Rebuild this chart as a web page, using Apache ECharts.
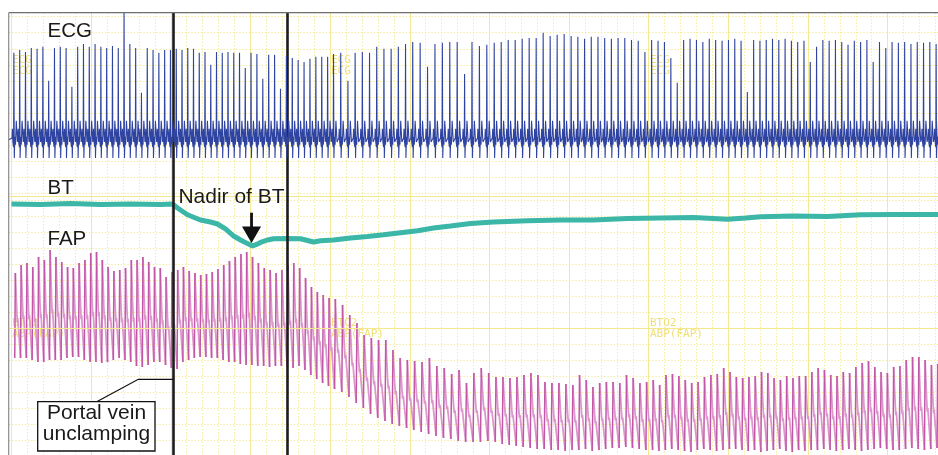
<!DOCTYPE html>
<html><head><meta charset="utf-8">
<script src="https://cdn.jsdelivr.net/npm/echarts@6/dist/echarts.min.js"></script>
<style>html,body{margin:0;padding:0;background:#fff}#c{width:938px;height:455px}</style>
</head><body><div id="c"></div>
<script>
// ================= DATA (time in s, 1 grid cell = 1 s) =================
// R-R interval per 5-s division
const divisionRR = [0.364, 0.364, 0.361, 0.370, 0.452, 0.465, 0.439, 0.421, 0.402, 0.395, 0.395, 0.395];
// ECG R-wave amplitude per beat (mV), grouped by 5-s division
const ecgR = [
  [2.18, 2.25, 2.2, 2.3, 2.28, 2.33, 1.48, 2.3, 2.33, 2.3, 1.33, 2.33, 2.4, 2.33],
  [2.4, 2.33, 2.3, 2.35, 2.3, 3.2, 2.4, 2.3, 1.18, 2.3, 2.25, 2.18, 2.25, 2.25],
  [2.28, 2.25, 2.3, 2.28, 2.18, 2.2, 1.88, 2.2, 2.18, 2.2, 2.18, 2.18, 1.8],
  [2.18, 2.15, 1.53, 2.13, 2.13, 1.28, 2.1, 2.05, 2.0, 1.95, 2.03, 2.08, 2.08, 2.08],
  [2.15, 2.18, 1.48, 2.18, 2.2, 2.18, 2.33, 2.28, 2.28, 2.33, 2.4],
  [2.45, 2.43, 1.83, 2.4, 2.43, 2.45, 2.45, 1.65, 2.45, 2.35, 2.38],
  [2.43, 2.45, 2.5, 2.5, 2.53, 2.55, 2.55, 2.68, 2.6, 2.63, 2.65],
  [2.6, 2.58, 2.53, 2.58, 2.58, 2.55, 2.53, 2.55, 2.55, 2.5, 2.48, 2.2],
  [2.5, 2.48, 2.45, 2.05, 1.43, 2.5, 2.53, 2.5, 2.45, 2.53, 2.5, 2.48],
  [2.5, 2.53, 2.48, 1.2, 2.5, 2.48, 2.5, 2.53, 2.5, 2.53, 2.48, 2.45, 2.48],
  [1.95, 2.33, 2.5, 2.48, 2.5, 2.45, 2.38, 2.48, 2.45, 2.5, 1.95, 2.45, 2.3],
  [2.45, 2.43, 2.45, 2.4, 2.45, 2.43, 2.45, 2.4]
];
// Femoral arterial pressure per beat (mmHg)
const fapSys = [
  [114.8, 118, 118.8, 117.2, 121.2, 120, 124, 121.2, 119.2, 117.2, 116.8, 118.8, 120, 122.8],
  [123.2, 120, 117.2, 115.6, 116, 116.8, 120, 120, 121.2, 119.2, 117.2, 116.8, 113.2, 115.2],
  [116, 117.2, 115.6, 114.8, 114, 114.4, 115.2, 116.4, 118, 119.6, 121.2, 122.4, 123.2],
  [121.2, 118.8, 116.8, 116, 114.8, 116, 118, 118.8, 116.8, 112.8, 109.2, 107.2, 106, 104.8],
  [104.4, 102, 98, 94.8, 90, 88.8, 88, 88, 84, 80.8, 80],
  [79.6, 79.2, 80.8, 77.6, 76.8, 74.4, 76, 70.8, 74.8, 76.8, 74.8],
  [73.2, 73.2, 72.8, 73.2, 74, 74.8, 74, 71.2, 70.8, 70.8, 70.4],
  [70, 74, 72, 69.2, 70.8, 71.2, 71.2, 70.8, 74, 72.8, 70.8, 71.2],
  [72, 70, 74, 74.4, 73.6, 72, 70.8, 71.2, 73.2, 74, 74.4, 76.8],
  [75.2, 73.2, 72.8, 73.2, 73.6, 75.2, 74.8, 72.8, 72, 73.6, 72.8, 73.6, 73.6],
  [75.2, 76.8, 76, 74, 73.6, 75.2, 74.8, 77.2, 78.8, 79.6, 77.2, 75.2, 74.8],
  [77.2, 77.6, 80, 81.2, 81.2, 80, 78, 78.4]
];
const fapDia = [
  [80.8, 80.8, 80, 79.2, 79.2, 80, 80, 80, 80.8, 81.2, 81.2, 80, 79.2, 79.2],
  [78.8, 79.2, 80, 80.8, 80, 79.2, 77.6, 77.2, 78, 79.2, 79.2, 78, 76.8, 76.4],
  [79.2, 80, 80.8, 81.2, 81.2, 80.8, 80.8, 80, 79.2, 79.2, 78.4, 78, 78],
  [77.6, 77.6, 77.2, 77.6, 77.6, 77.2, 76.8, 77.6, 76, 74, 72.4, 70.8, 69.6, 68.4],
  [67.2, 65.2, 62.8, 60.8, 58.4, 56.8, 55.6, 54.4, 53.6, 52.8, 52],
  [51.2, 50.4, 49.6, 48.8, 48.4, 47.6, 47.2, 47.2, 47.2, 47.6, 47.2],
  [46.4, 46, 45.6, 45.2, 44.8, 44.4, 44.4, 44, 44, 43.6, 44],
  [44, 44.4, 43.6, 44, 44.4, 44.8, 44.8, 45.2, 44.8, 44.4, 44, 44],
  [43.6, 44, 44.4, 44, 43.6, 43.2, 44, 44.4, 44, 43.6, 44, 44.4],
  [44.4, 44, 43.6, 44, 43.2, 43.6, 44, 44.4, 43.6, 43.2, 44, 43.6, 44],
  [44, 44.4, 44, 43.6, 44, 44.4, 44, 43.6, 44, 44.4, 44.8, 44.4, 44],
  [44, 44.4, 44.8, 44.4, 44, 44.4, 44.8, 44.4]
];
// Blood temperature (deg C)
const btTime = [0, 1.82, 3.70, 5.59, 7.47, 9.35, 10.11, 10.42, 11.05, 11.86, 12.49, 12.93, 13.43, 13.94, 14.38, 14.82, 15.13, 15.38, 15.63, 16.07, 16.45, 17.33, 18.14, 18.96, 19.40, 20.21, 21.28, 22.35, 23.35, 24.42, 25.49, 26.49, 27.56, 28.81, 30.26, 32.39, 34.46, 36.53, 38.67, 40.74, 42.81, 44.95, 46.08, 47.02, 49.09, 51.22, 53.30, 55.37, 58.19];
const btTemp = [37.00, 36.99, 37.01, 36.99, 37.00, 36.99, 37.00, 36.90, 36.73, 36.60, 36.55, 36.50, 36.38, 36.20, 36.10, 36.01, 35.95, 35.99, 36.04, 36.10, 36.13, 36.14, 36.13, 36.05, 36.08, 36.10, 36.15, 36.19, 36.23, 36.28, 36.33, 36.40, 36.45, 36.51, 36.55, 36.58, 36.60, 36.60, 36.64, 36.65, 36.66, 36.62, 36.65, 36.68, 36.70, 36.69, 36.73, 36.74, 36.74];
// Waveform morphology (offset s, mV) around each R wave
const ecgBefore = [[-0.12, 0.05], [-0.095, 0.28], [-0.065, -0.05], [-0.02, -0.18]];
const ecgAfter = [[0.025, -0.45], [0.06, 0.08], [0.1, -0.12], [0.15, 0.48], [0.22, -0.05]];
// Arterial pulse morphology: [fraction of RR after R wave, fraction of pulse pressure]
const fapDecay = [[0.5, 0.55], [0.6, 0.42], [0.68, 0.46]];
const fapFoot = 0.15, fapPeak = 0.25;
// Events
const unclampTime = 10.16;
const secondLineTime = 17.34;
const channelLabels = ['ECG', 'BT', 'FAP'];

// ================= BUILD =================
const beats = [];
let tb = 0.15;
ecgR.forEach((div, i) => div.forEach((r, j) => {
  beats.push({ t: tb, r, sys: fapSys[i][j], dia: fapDia[i][j], rr: divisionRR[i] });
  tb += divisionRR[i];
}));
const ecgData = [[-0.2, 0]];
beats.forEach(b => {
  ecgBefore.forEach(([d, v]) => ecgData.push([b.t + d, v]));
  ecgData.push([b.t, b.r]);
  ecgAfter.forEach(([d, v]) => ecgData.push([b.t + d, v]));
});
const fapUp = [], fapDown = [];
let prevDia = beats[0].dia;
beats.forEach(b => {
  const foot = b.t + fapFoot * b.rr, peak = b.t + fapPeak * b.rr;
  fapUp.push([foot, prevDia], [peak, b.sys], [peak, null]);
  fapDown.push([peak, b.sys]);
  fapDecay.forEach(([f, p]) => fapDown.push([b.t + f * b.rr, b.dia + p * (b.sys - b.dia)]));
  fapDown.push([b.t + b.rr + fapFoot * b.rr, b.dia], [b.t + b.rr + fapFoot * b.rr, null]);
  prevDia = b.dia;
});
const btData = btTime.map((t, i) => [t, btTemp[i]]);

const XMIN = -0.157, XMAX = 58.16;
const chGrid = { left: 9, right: 0, top: 13, bottom: 0 };
const hiddenX = (g) => ({ type: 'value', gridIndex: g, min: XMIN, max: XMAX, show: false });
const hiddenY = (g, min, max) => ({ type: 'value', gridIndex: g, min, max, show: false });
const dotted = { color: '#f3e88c', width: 1, type: [1.2, 2] };
const Y = '#f3e88c';

const chart = echarts.init(document.getElementById('c'), null, { renderer: 'canvas' });
chart.setOption({
  animation: false,
  backgroundColor: '#ffffff',
  grid: [
    { left: 11.5, right: 0, top: 13, bottom: 0 },
    { left: 9, right: 0, top: 16.6, height: 177.1 },
    { left: 9, right: 0, top: 200, height: 240 },
    chGrid, chGrid, chGrid
  ],
  xAxis: [
    { type: 'value', gridIndex: 0, min: 0, max: 58.16, interval: 5,
      axisLine: { show: false }, axisTick: { show: false }, axisLabel: { show: false },
      splitLine: { show: true, lineStyle: { color: '#f5ea94', width: 1 } },
      minorTick: { show: false, splitNumber: 5 },
      minorSplitLine: { show: true, lineStyle: dotted } },
    { type: 'value', gridIndex: 1, min: 0, max: 1, show: false },
    { type: 'value', gridIndex: 2, min: 0, max: 1, show: false },
    hiddenX(3), hiddenX(4), hiddenX(5)
  ],
  yAxis: [
    { type: 'value', gridIndex: 0, min: 0, max: 1, show: false },
    { type: 'value', gridIndex: 1, min: 0, max: 11, interval: 1, inverse: true,
      axisLine: { show: false }, axisTick: { show: false }, axisLabel: { show: false },
      splitLine: { show: true, lineStyle: dotted } },
    { type: 'value', gridIndex: 2, min: 0, max: 15, interval: 1, inverse: true,
      axisLine: { show: false }, axisTick: { show: false }, axisLabel: { show: false },
      splitLine: { show: true, lineStyle: dotted } },
    hiddenY(3, -7.875, 3.175),
    hiddenY(4, 30.725, 41.775),
    hiddenY(5, 42, 218.8)
  ],
  series: [
    { name: 'FAP decay', type: 'line', xAxisIndex: 5, yAxisIndex: 5, data: fapDown, showSymbol: false,
      connectNulls: false, z: 2, lineStyle: { color: '#dc97cd', width: 1.8 },
      markLine: { silent: true, symbol: 'none', label: { show: false },
        lineStyle: { color: Y, width: 1.2, type: 'solid' }, data: [{ yAxis: 92.8 }] } },
    { name: 'FAP', type: 'line', xAxisIndex: 5, yAxisIndex: 5, data: fapUp, showSymbol: false,
      connectNulls: false, z: 3, lineStyle: { color: '#c257a8', width: 1.5 } },
    { name: 'BT', type: 'line', xAxisIndex: 4, yAxisIndex: 4, data: btData, showSymbol: false, z: 4,
      lineStyle: { color: '#3bb6a7', width: 5 },
      markLine: { silent: true, symbol: 'none', label: { show: false },
        lineStyle: { color: Y, width: 1.2, type: 'solid' }, data: [{ yAxis: 37.2 }] } },
    { name: 'ECG', type: 'line', xAxisIndex: 3, yAxisIndex: 3, data: ecgData, showSymbol: false, z: 5,
      lineStyle: { color: '#2f43a0', width: 1.1 },
      markLine: { silent: true, symbol: 'none', label: { show: false },
        lineStyle: { color: '#1c1c1c', width: 2.6, type: 'solid' },
        data: [{ xAxis: unclampTime }, { xAxis: secondLineTime }] } }
  ]
});

// ---- annotations ----
let nadirIdx = 0;
btTemp.forEach((v, i) => { if (v < btTemp[nadirIdx]) nadirIdx = i; });
const nadirPx = chart.convertToPixel({ xAxisIndex: 4, yAxisIndex: 4 }, [btTime[nadirIdx], btTemp[nadirIdx]]);
const unclampPx = chart.convertToPixel({ xAxisIndex: 3, yAxisIndex: 3 }, [unclampTime, 0]);
const tipX = nadirPx[0] - 1, tipY = nadirPx[1] - 3;
const labelFont = '20.5px "Liberation Sans", Arial, sans-serif';
const annFont = '21px "Liberation Sans", Arial, sans-serif';
const monoFont = '11px "DejaVu Sans Mono", monospace';
const monoColor = '#f0df78';
const mono = (x, y, txt) => ({ type: 'text', x, y, z: 1, silent: true,
  style: { text: txt, font: monoFont, fill: monoColor, lineHeight: 11, verticalAlign: 'top' } });

chart.setOption({
  graphic: [
    mono(12, 55, 'ECG\nECG'), mono(331, 55, 'ECG\nECG'), mono(650, 55, 'ECG\nECG'),
    mono(12, 318, 'BTO2\nABP(FAP)'), mono(331, 318, 'BTO2\nABP(FAP)'), mono(650, 318, 'BTO2\nABP(FAP)'),
    { type: 'line', z: 50, shape: { x1: 8.7, y1: 12.7, x2: 938, y2: 12.7 }, style: { stroke: '#6e6e6e', lineWidth: 1.2 } },
    { type: 'line', z: 50, shape: { x1: 8.7, y1: 12.7, x2: 8.7, y2: 455 }, style: { stroke: '#8a8a8a', lineWidth: 1.2 } },
    { type: 'text', z: 60, x: 47.5, y: 31.3, style: { text: channelLabels[0], font: labelFont, fill: '#1a1a1a', verticalAlign: 'middle' } },
    { type: 'text', z: 60, x: 47.5, y: 188.5, style: { text: channelLabels[1], font: labelFont, fill: '#1a1a1a', verticalAlign: 'middle' } },
    { type: 'text', z: 60, x: 47.5, y: 239.5, style: { text: channelLabels[2], font: labelFont, fill: '#1a1a1a', verticalAlign: 'middle' } },
    { type: 'text', z: 60, x: 231.5, y: 197.5, style: { text: 'Nadir of BT', font: annFont, fill: '#1a1a1a', align: 'center', verticalAlign: 'middle' } },
    { type: 'line', z: 60, shape: { x1: tipX, y1: 212.7, x2: tipX, y2: tipY - 15 }, style: { stroke: '#111', lineWidth: 2.8 } },
    { type: 'polygon', z: 60, shape: { points: [[tipX - 9.5, tipY - 16.5], [tipX + 9.5, tipY - 16.5], [tipX, tipY]] }, style: { fill: '#111' } },
    { type: 'polyline', z: 60, shape: { points: [[96.7, 401.7], [138.3, 379.3], [unclampPx[0], 379.3]] }, style: { stroke: '#111', lineWidth: 1.3, fill: null } },
    { type: 'rect', z: 60, shape: { x: 37.7, y: 401.7, width: 117.3, height: 49.3 }, style: { fill: '#ffffff', stroke: '#111', lineWidth: 1.3 } },
    { type: 'text', z: 61, x: 96.5, y: 413.3, style: { text: 'Portal vein', font: annFont, fill: '#1a1a1a', align: 'center', verticalAlign: 'middle' } },
    { type: 'text', z: 61, x: 96.5, y: 434.5, style: { text: 'unclamping', font: annFont, fill: '#1a1a1a', align: 'center', verticalAlign: 'middle' } }
  ]
});
</script></body></html>
